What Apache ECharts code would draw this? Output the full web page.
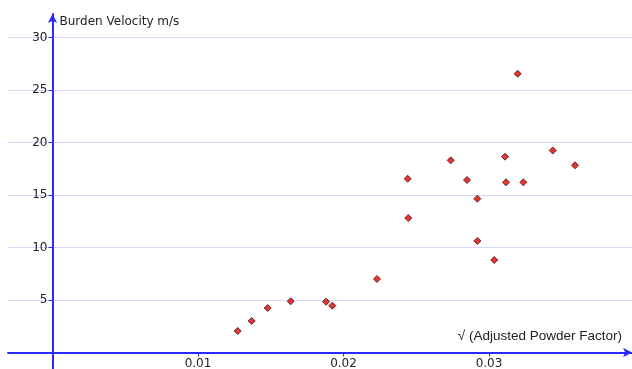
<!DOCTYPE html>
<html>
<head>
<meta charset="utf-8">
<script src="https://cdn.jsdelivr.net/npm/echarts@6/dist/echarts.min.js"></script>
<style>
html,body{margin:0;padding:0;background:#fff;}
#chart{width:632px;height:369px;}
</style>
</head>
<body>
<div id="chart"></div>
<script>
// Data
const powderFactor = [0.01273, 0.01369, 0.01479, 0.01637, 0.01880, 0.01923, 0.02230, 0.02445, 0.02441, 0.02737, 0.02849, 0.02920, 0.02920, 0.03036, 0.03110, 0.03117, 0.03197, 0.03236, 0.03438, 0.03591];
const burdenVelocity = [2.05, 3.00, 4.24, 4.88, 4.84, 4.46, 7.00, 12.81, 16.55, 18.30, 16.43, 14.65, 10.62, 8.81, 18.65, 16.21, 26.55, 16.21, 19.24, 17.83];
const xTicks = [0.01, 0.02, 0.03];
const yTicks = [5, 10, 15, 20, 25, 30];
const xTitle = '\u221A (Adjusted Powder Factor)';
const yTitle = 'Burden Velocity m/s';

const points = powderFactor.map((x, i) => [x, burdenVelocity[i]]);

const axisBlue = '#2a2aff';
const gridColor = '#d6d6ff';

const chart = echarts.init(document.getElementById('chart'), null, {renderer: 'canvas'});
chart.setOption({
  animation: false,
  backgroundColor: '#ffffff',
  grid: {left: 8, right: 0, top: 14, bottom: 0, containLabel: false, outerBoundsMode: 'none'},
  xAxis: {
    type: 'value',
    position: 'bottom',
    offset: -16.5,
    min: -0.003058,
    max: 0.039828,
    name: xTitle,
    nameLocation: 'end',
    nameGap: -10,
    nameTextStyle: {
      fontFamily: 'Liberation Sans, Arial, sans-serif',
      fontSize: 13.5,
      color: '#222',
      align: 'right',
      verticalAlign: 'bottom',
      padding: [0, 0, 9, 0]
    },
    axisLine: {
      onZero: false,
      lineStyle: {color: axisBlue, width: 2},
      symbol: ['none', 'arrow'],
      symbolSize: [7, 9]
    },
    axisTick: {show: true, customValues: xTicks, length: 4, lineStyle: {color: axisBlue, width: 1}},
    axisLabel: {
      customValues: xTicks,
      margin: 5,
      fontFamily: 'DejaVu Sans, Verdana, sans-serif',
      fontSize: 12,
      color: '#222',
      formatter: v => v.toFixed(2)
    },
    splitLine: {show: false}
  },
  yAxis: {
    type: 'value',
    position: 'left',
    offset: -44.5,
    min: -1.57,
    max: 32.24,
    name: yTitle,
    nameLocation: 'end',
    nameGap: -8,
    nameTextStyle: {
      fontFamily: 'DejaVu Sans, Verdana, sans-serif',
      fontSize: 12,
      color: '#222',
      align: 'left',
      verticalAlign: 'middle',
      padding: [0, 0, 0, 7]
    },
    axisLine: {
      onZero: false,
      lineStyle: {color: axisBlue, width: 2},
      symbol: ['none', 'arrow'],
      symbolSize: [7, 9]
    },
    axisTick: {show: true, customValues: yTicks, length: 4, lineStyle: {color: axisBlue, width: 1}},
    axisLabel: {
      customValues: yTicks,
      margin: 5,
      fontFamily: 'DejaVu Sans, Verdana, sans-serif',
      fontSize: 12,
      color: '#222'
    },
    splitLine: {show: true, lineStyle: {color: gridColor, width: 1}}
  },
  series: [{
    type: 'scatter',
    data: points,
    symbol: 'diamond',
    symbolSize: 7,
    itemStyle: {color: '#e60000', borderColor: '#3a1010', borderWidth: 1},
    z: 5
  }]
});
</script>
</body>
</html>
